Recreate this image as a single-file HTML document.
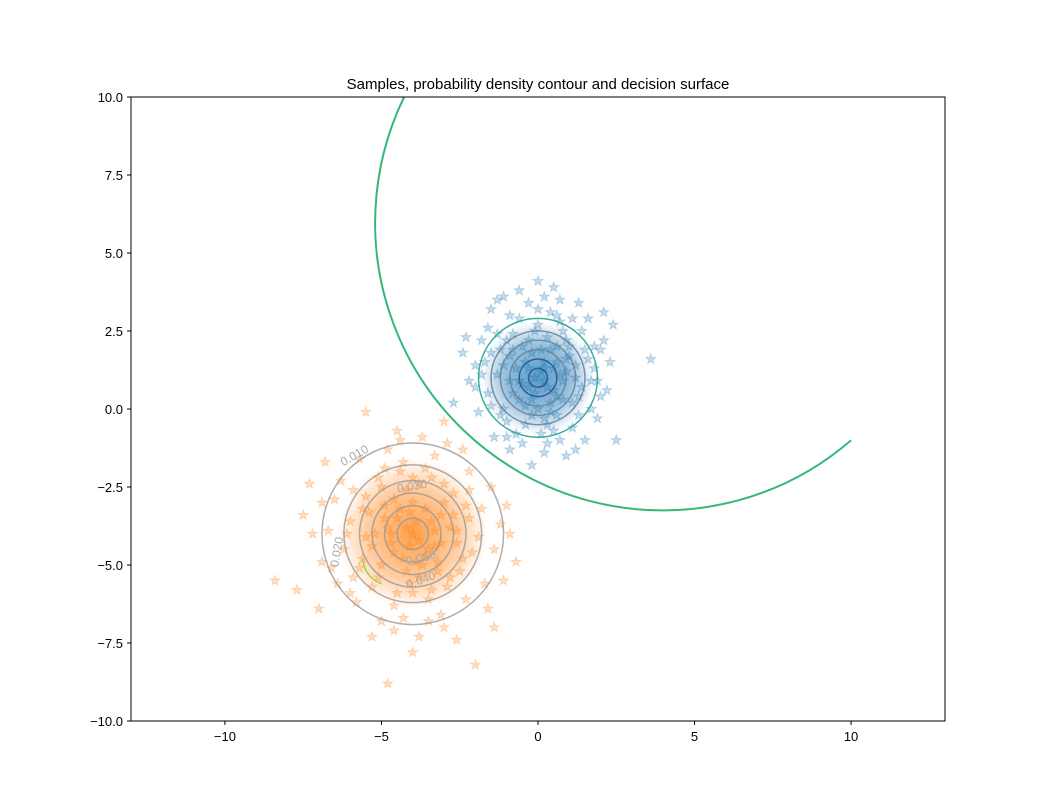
<!DOCTYPE html>
<html><head><meta charset="utf-8"><style>
body{margin:0;background:#fff;}
svg{display:block;font-family:"Liberation Sans",sans-serif;}
</style></head><body>
<svg id="chart" width="1050" height="811" xmlns="http://www.w3.org/2000/svg">
<defs><clipPath id="clip"><rect x="131" y="97" width="814" height="624"/></clipPath>
<radialGradient id="gBlue"><stop offset="0" stop-color="#1f77b4" stop-opacity="0.75"/><stop offset="0.6" stop-color="#1f77b4" stop-opacity="0.45"/><stop offset="1" stop-color="#1f77b4" stop-opacity="0"/></radialGradient>
<radialGradient id="gOrange"><stop offset="0" stop-color="#ff7f0e" stop-opacity="0.75"/><stop offset="0.6" stop-color="#ff7f0e" stop-opacity="0.4"/><stop offset="1" stop-color="#ff7f0e" stop-opacity="0"/></radialGradient>
</defs>
<rect width="1050" height="811" fill="#fff"/>
<text x="538" y="89" text-anchor="middle" font-size="15">Samples, probability density contour and decision surface</text>
<g id="plot" clip-path="url(#clip)"></g>
<rect x="131" y="97" width="814" height="624" fill="none" stroke="#000" stroke-width="1"/>
<g id="axes"></g>
</svg>
<script>
const xTicks=[-10,-5,0,5,10];
const yTicks=[-10,-7.5,-5,-2.5,0,2.5,5,7.5,10];
const yTickLabels=["−10.0","−7.5","−5.0","−2.5","0.0","2.5","5.0","7.5","10.0"];
const xTickLabels=["−10","−5","0","5","10"];
const blueSamples=[[0.1,1.2],[-0.5,0.8],[0.6,1.5],[-1.2,1.9],[1.3,0.4],[0.2,-0.3],[-0.8,2.4],[0.9,2.2],[-1.6,0.5],[1.8,1.3],[0.4,3.1],[-0.3,3.4],[1.1,-0.6],[-1.0,-0.4],[2.1,2.2],[-2.0,1.4],[0.0,4.1],[3.6,1.6],[2.5,-1.0],[-1.5,3.2],[0.7,3.5],[-0.9,-1.3],[0.3,-1.1],[1.6,2.9],[-2.2,0.9],[1.9,-0.3],[-0.4,0.1],[0.5,0.6],[-0.2,1.8],[0.8,0.9],[-0.7,1.3],[1.0,1.7],[-1.3,1.1],[0.3,2.3],[-0.6,2.9],[1.4,2.5],[-1.8,2.2],[2.2,0.6],[0.1,-0.8],[-1.1,0.0],[0.6,-0.2],[1.2,1.0],[-0.1,0.5],[0.4,1.9],[-0.9,1.7],[0.0,2.7],[1.7,0.0],[-1.4,-0.9],[0.9,-1.5],[-0.2,-1.8],[2.0,1.9],[-2.4,1.8],[0.2,3.6],[-1.1,3.6],[1.3,3.4],[2.4,2.7],[-2.7,0.2],[-0.5,-1.1],[1.5,-1.0],[0.7,2.8],[-0.3,2.2],[0.2,0.9],[-0.8,0.5],[1.1,0.2],[0.5,1.3],[-0.4,1.5],[0.9,1.2],[-1.0,2.2],[1.6,1.6],[-1.7,1.5],[0.0,0.0],[0.3,-0.5],[-1.2,-0.2],[1.9,0.9],[-1.9,-0.1],[0.6,2.0],[-0.6,0.3],[0.2,1.5],[-0.1,1.0],[0.8,0.3],
[0.3,0.7],[-0.3,1.3],[0.7,1.1],[-0.6,0.9],[0.4,0.2],[-0.2,0.3],[0.1,1.9],[-0.5,2.0],[1.0,2.0],[1.2,1.4],[-1.1,1.4],[-0.9,0.9],[0.5,-0.7],[-0.4,-0.5],[1.4,0.7],[-1.5,1.8],[0.8,2.5],[-0.1,2.5],[1.8,2.0],[-1.6,2.6],[0.2,-1.4],[-0.7,-0.8],[1.3,-0.2],[-1.5,0.1],[2.0,0.4],[-2.0,0.7],[0.6,3.0],[-0.9,3.0],[1.1,2.9],[0.0,3.2],[-0.3,0.7],[0.2,1.3],[0.6,0.4],[-0.8,1.9],[0.9,1.6],[-1.3,2.4],[1.5,1.9],[1.7,0.9],[-1.8,1.1],[0.4,-0.1],[-0.2,-0.2],[0.7,-1.0],[-1.0,-0.9],[2.3,1.5],[-2.3,2.3],[1.2,-1.3],[-0.6,3.8],[0.5,3.9],[-1.3,3.5],[2.1,3.1]];
const orangeSamples=[[-4,-4],[-4.5,-3.5],[-3.5,-4.5],[-5.2,-4.0],[-2.8,-3.8],[-4.2,-2.6],[-3.8,-5.4],[-5.5,-2.8],[-2.5,-5.2],[-6.2,-4.5],[-1.8,-3.2],[-4.6,-6.3],[-3.1,-6.6],[-5.8,-6.2],[-6.5,-2.9],[-2.2,-2.0],[-4.8,-1.3],[-3.3,-1.5],[-7.5,-3.4],[-0.9,-4.0],[-8.4,-5.5],[-4.8,-8.8],[-2.0,-8.2],[-5.5,-0.1],[-3.0,-0.4],[-1.4,-7.0],[-7.0,-6.4],[-1.1,-5.5],[-6.8,-1.7],[-3.8,-7.3],[-5.0,-5.0],[-3.0,-3.0],[-4.3,-4.8],[-3.6,-3.2],[-4.9,-3.1],[-3.2,-4.9],[-5.6,-4.8],[-2.6,-4.3],[-4.0,-5.9],[-4.4,-2.0],[-6.0,-3.6],[-2.3,-6.1],[-5.3,-5.7],[-3.4,-2.2],[-4.7,-4.3],[-3.9,-3.6],[-4.1,-4.4],[-3.3,-3.9],[-5.9,-5.4],[-2.1,-4.6],[-6.6,-5.1],[-1.5,-2.5],[-5.1,-2.2],[-2.9,-5.7],[-4.6,-7.1],[-3.0,-7.0],[-7.2,-4.0],[-6.3,-2.3],[-1.6,-6.4],[-3.7,-0.9],[-4.5,-0.7],[-5.7,-1.6],[-2.4,-1.3],[-7.7,-5.8],[-0.7,-4.9],[-1.2,-3.7],[-6.9,-3.0],[-4.2,-5.2],[-3.6,-4.7],[-4.8,-3.8],[-3.1,-3.4],[-5.4,-3.3],[-2.7,-2.7],[-4.0,-3.0],[-3.5,-6.1],[-5.0,-6.8],[-6.0,-5.9],[-2.2,-3.5],[-4.3,-1.7],[-3.8,-2.4],
[-4.2,-3.8],[-3.8,-4.2],[-4.6,-4.6],[-3.4,-3.6],[-4.9,-3.5],[-3.1,-4.3],[-4.4,-3.2],[-3.7,-5.0],[-5.3,-4.4],[-2.7,-3.4],[-4.0,-2.2],[-4.1,-5.6],[-5.6,-3.2],[-2.4,-4.8],[-5.0,-2.5],[-3.0,-2.4],[-5.1,-5.4],[-2.8,-5.4],[-6.1,-4.0],[-1.9,-4.1],[-4.5,-5.9],[-3.4,-5.8],[-4.9,-1.9],[-3.6,-1.9],[-6.4,-5.6],[-1.7,-5.6],[-5.9,-2.6],[-2.2,-2.6],[-4.3,-6.7],[-3.5,-6.8],[-4.7,-4.0],[-3.3,-4.4],[-4.1,-3.3],[-3.9,-4.9],[-5.5,-4.1],[-2.6,-3.9],[-4.6,-2.9],[-3.2,-5.2],[-5.7,-5.1],[-2.3,-3.1],[-6.7,-3.9],[-1.4,-4.5],[-4.0,-7.8],[-5.3,-7.3],[-2.6,-7.4],[-6.9,-4.9],[-1.0,-3.1],[-4.4,-1.0],[-2.9,-1.1],[-7.3,-2.4]];
const blueCenter=[0,1];
const blueContourRadii=[0.3,0.6,0.9,1.2,1.5,1.9];
const orangeCenter=[-4,-4];
const orangeContourRadii=[0.5,0.9,1.3,1.7,2.2,2.9];
const decisionCenter=[4.05,6];
const decisionEnd=[10,-1];

const X0=131,X1=945,Y0=97,Y1=721,XMIN=-13,XMAX=13,YMIN=-10,YMAX=10;
const sx=v=>X0+(v-XMIN)/(XMAX-XMIN)*(X1-X0);
const sy=v=>Y1-(v-YMIN)/(YMAX-YMIN)*(Y1-Y0);
const ppu=(X1-X0)/(XMAX-XMIN);
const NS="http://www.w3.org/2000/svg";
const plot=document.getElementById('plot'),axes=document.getElementById('axes');
function mk(tag,attrs,parent){const e=document.createElementNS(NS,tag);for(const k in attrs)e.setAttribute(k,attrs[k]);parent.appendChild(e);return e;}
function star(cx,cy,r){let p=[];for(let i=0;i<10;i++){const a=-Math.PI/2+i*Math.PI/5,rr=i%2?r*0.4:r;p.push((cx+rr*Math.cos(a)).toFixed(1)+','+(cy+rr*Math.sin(a)).toFixed(1));}return p.join(' ');}
const shO=mk('circle',{cx:sx(orangeCenter[0]),cy:sy(orangeCenter[1]),r:2.4*ppu,fill:'url(#gOrange)'},plot);


const shB=mk('circle',{cx:sx(blueCenter[0]),cy:sy(blueCenter[1]),r:1.8*ppu,fill:'url(#gBlue)'},plot);


function drawSamples(arr,color,name){arr.forEach(d=>{const s=mk('polygon',{points:star(sx(d[0]),sy(d[1]),5.2),fill:color,'fill-opacity':0.25,stroke:color,'stroke-opacity':0.25,'stroke-width':1},plot);

});}
drawSamples(orangeSamples,'#ff7f0e','orange-sample');
drawSamples(blueSamples,'#1f77b4','blue-sample');
orangeContourRadii.forEach(r=>{const c=mk('circle',{cx:sx(orangeCenter[0]),cy:sy(orangeCenter[1]),r:r*ppu,fill:'none',stroke:'#999','stroke-opacity':0.8,'stroke-width':1.5},plot);

});
blueContourRadii.forEach((r,i)=>{const col=i==blueContourRadii.length-1?'#17a08a':(i<2?'#2a4f8a':'#6a7f96');const c=mk('circle',{cx:sx(blueCenter[0]),cy:sy(blueCenter[1]),r:r*ppu,fill:'none',stroke:col,'stroke-opacity':0.85,'stroke-width':1.5},plot);

});
[['0.010',-5.8,-1.6,-30],['0.020',-6.3,-4.6,-80],['0.030',-4.0,-2.6,-10],['0.040',-3.7,-5.6,-20],['0.050',-3.7,-4.9,-15]].forEach(l=>{const t=mk('text',{x:sx(l[1]),y:sy(l[2]),'font-size':12,fill:'#aaa','text-anchor':'middle',transform:`rotate(${l[3]} ${sx(l[1])} ${sy(l[2])})`},plot);t.textContent=l[0];

});
const dr=Math.hypot(decisionEnd[0]-decisionCenter[0],decisionEnd[1]-decisionCenter[1]);
const dc=mk('path',{d:`M${sx(decisionCenter[0])},${sy(decisionCenter[1]+dr)} A${dr*ppu},${dr*ppu} 0 1 0 ${sx(decisionEnd[0])},${sy(decisionEnd[1])}`,fill:'none',stroke:'#35b779','stroke-width':2},plot);


const ga=mk('path',{d:`M${sx(-5.6)},${sy(-4.8)} A${0.9*ppu},${0.9*ppu} 0 0 0 ${sx(-5.0)},${sy(-5.6)}`,fill:'none',stroke:'#9bd33c','stroke-width':1.5},plot);


xTicks.forEach((v,i)=>{mk('line',{x1:sx(v),x2:sx(v),y1:Y1,y2:Y1+4,stroke:'#000'},axes);const t=mk('text',{x:sx(v),y:Y1+20,'font-size':13,'text-anchor':'middle'},axes);t.textContent=xTickLabels[i];

});
yTicks.forEach((v,i)=>{mk('line',{x1:X0-4,x2:X0,y1:sy(v),y2:sy(v),stroke:'#000'},axes);const t=mk('text',{x:X0-8,y:sy(v)+5,'font-size':13,'text-anchor':'end'},axes);t.textContent=yTickLabels[i];

});
</script>
</body></html>
